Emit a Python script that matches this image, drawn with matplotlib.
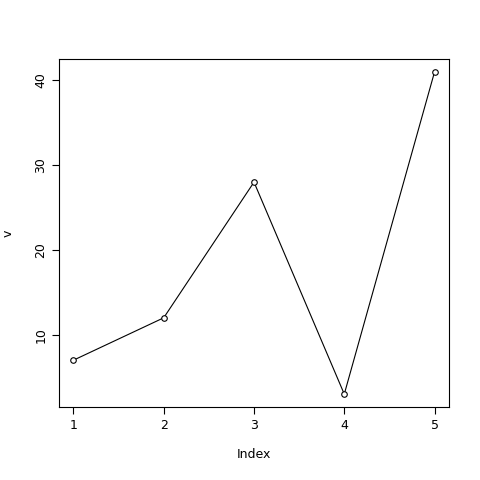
import matplotlib
matplotlib.use('Agg')
import matplotlib.pyplot as plt

# values as in the R vector v
idx = [1, 2, 3, 4, 5]
v = [7, 12, 28, 3, 41]
yticks = [10, 20, 30, 40]

fig = plt.figure(figsize=(4.8, 4.8), dpi=100)
ax = fig.add_axes([59/480, 1 - 407/480, 390/480, 348/480])
ax.plot(idx, v, color='black', linewidth=0.8, marker='o', markersize=4,
        markerfacecolor='white', markeredgecolor='black', markeredgewidth=0.8)

# R style 4% axis padding
ax.set_xlim(1 - 0.04 * 4, 5 + 0.04 * 4)
ax.set_ylim(3 - 0.04 * 38, 41 + 0.04 * 38)
ax.set_xticks(idx)
ax.set_yticks(yticks)
ax.tick_params(labelsize=9, length=5, width=0.8)
for lab in ax.get_yticklabels():
    lab.set_rotation(90)
    lab.set_va('center')
for s in ax.spines.values():
    s.set_linewidth(0.8)

ax.set_xlabel('Index', fontsize=9, labelpad=12)
ax.set_ylabel('v', fontsize=9, labelpad=14)

fig.savefig('out.png', dpi=100)
